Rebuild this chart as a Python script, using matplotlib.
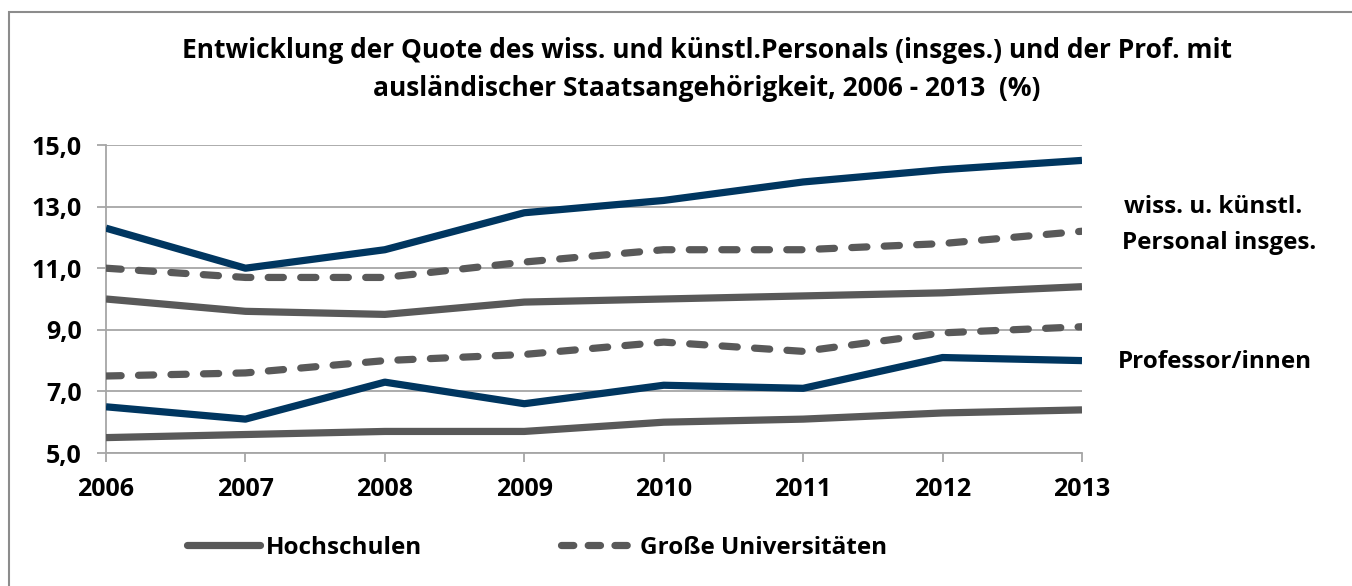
import matplotlib
matplotlib.use("Agg")
import matplotlib.pyplot as plt
from matplotlib.patches import Rectangle
from matplotlib.lines import Line2D

years = [2006, 2007, 2008, 2009, 2010, 2011, 2012, 2013]
uni_personal = [12.3, 11.0, 11.6, 12.8, 13.2, 13.8, 14.2, 14.5]
gross_personal = [11.0, 10.7, 10.7, 11.2, 11.6, 11.6, 11.8, 12.2]
hs_personal = [10.0, 9.6, 9.5, 9.9, 10.0, 10.1, 10.2, 10.4]
gross_prof = [7.5, 7.6, 8.0, 8.2, 8.6, 8.3, 8.9, 9.1]
uni_prof = [6.5, 6.1, 7.3, 6.6, 7.2, 7.1, 8.1, 8.0]
hs_prof = [5.5, 5.6, 5.7, 5.7, 6.0, 6.1, 6.3, 6.4]
y_ticks = [5, 7, 9, 11, 13, 15]
y_labels = ["5,0", "7,0", "9,0", "11,0", "13,0", "15,0"]

plt.rcParams['font.family'] = ['Open Sans', 'DejaVu Sans']
plt.rcParams['font.weight'] = 'bold'

W, H = 1352, 586
fig = plt.figure(figsize=(W / 100, H / 100), dpi=100)
fig.patch.set_facecolor('white')

# outer frame (partially cropped)
fig.patches.append(Rectangle((9 / W, -0.05), 1.2, 1 - 12 / H + 0.05, transform=fig.transFigure,
                             fill=False, edgecolor='#8c8c8c', linewidth=1.5))

ax = fig.add_axes([106 / W, 1 - 453 / H, (1082 - 106) / W, (453 - 145) / H])
navy = '#003660'
gray = '#595959'
lw = 5.2
dash = (0, (2.1, 2.4))
ax.plot(years, uni_personal, color=navy, lw=lw, solid_capstyle='butt', zorder=3)
ax.plot(years, gross_personal, color=gray, lw=lw, ls=dash, dash_capstyle='round', zorder=3)
ax.plot(years, hs_personal, color=gray, lw=lw, solid_capstyle='butt', zorder=3)
ax.plot(years, gross_prof, color=gray, lw=lw, ls=dash, dash_capstyle='round', zorder=3)
ax.plot(years, uni_prof, color=navy, lw=lw, solid_capstyle='butt', zorder=3)
ax.plot(years, hs_prof, color=gray, lw=lw, solid_capstyle='butt', zorder=3)

ax.set_xlim(years[0], years[-1])
ax.set_ylim(5, 15)
ax.set_yticks(y_ticks)
ax.set_yticklabels(y_labels)
ax.set_xticks(years)
ax.set_xticklabels([str(y) for y in years])
ax.grid(axis='y', color='#a6a6a6', lw=1.3, zorder=1)
for s in ['top', 'right']:
    ax.spines[s].set_visible(False)
for s in ['left', 'bottom']:
    ax.spines[s].set_color('#a6a6a6')
    ax.spines[s].set_linewidth(1.3)
ax.tick_params(axis='y', length=6.5, width=1.3, color='#a6a6a6', labelsize=18, pad=11)
ax.tick_params(axis='x', length=6.5, width=1.3, color='#a6a6a6', labelsize=18, pad=11)
for lab in ax.get_xticklabels() + ax.get_yticklabels():
    lab.set_fontweight('bold')

fig.text(707 / W, 1 - 50 / H, "Entwicklung der Quote des wiss. und künstl.Personals (insges.) und der Prof. mit",
         ha='center', va='center', fontsize=19, fontweight='bold')
fig.text(707 / W, 1 - 88 / H, "ausländischer Staatsangehörigkeit, 2006 - 2013  (%)",
         ha='center', va='center', fontsize=19, fontweight='bold')

fig.text(1124 / W, 1 - 207 / H, "wiss. u. künstl.", ha='left', va='center', fontsize=17.5, fontweight='bold')
fig.text(1122 / W, 1 - 243 / H, "Personal insges.", ha='left', va='center', fontsize=17.5, fontweight='bold')
fig.text(1118 / W, 1 - 362 / H, "Professor/innen", ha='left', va='center', fontsize=17.5, fontweight='bold')

handles = [Line2D([], [], color=gray, lw=lw, solid_capstyle='round'),
           Line2D([], [], color=gray, lw=lw, ls=(0, (1.7, 2.0)), dash_capstyle='round')]
leg = fig.legend(handles, ["Hochschulen", "Große Universitäten"], loc='center left',
                 bbox_to_anchor=(187 / W, 1 - 548 / H), ncol=2, frameon=False, borderpad=0,
                 borderaxespad=0, fontsize=17.5, handlelength=3.0, handletextpad=0.25,
                 columnspacing=5.7)
for t in leg.get_texts():
    t.set_fontweight('bold')

fig.savefig('out.png', dpi=100, facecolor='white')
